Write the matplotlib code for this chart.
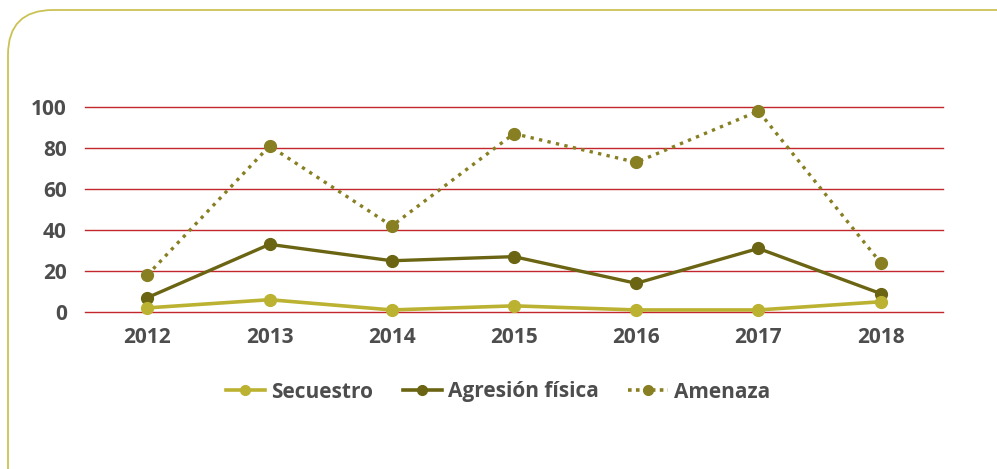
import matplotlib.pyplot as plt
from matplotlib.patches import FancyBboxPatch
from matplotlib.lines import Line2D

years = [2012, 2013, 2014, 2015, 2016, 2017, 2018]
secuestro = [2, 6, 1, 3, 1, 1, 5]
agresion = [7, 33, 25, 27, 14, 31, 9]
amenaza = [18, 81, 42, 87, 73, 98, 24]
y_ticks = [0, 20, 40, 60, 80, 100]

plt.rcParams['font.family'] = ['Open Sans', 'DejaVu Sans']

fig = plt.figure(figsize=(9.97, 4.69), dpi=100)
W, H = 997, 469

# rounded frame (only top-left corner is visible)
frame = FancyBboxPatch((8 / W, -0.2), 1.2, 1.2 - 10 / H,
                       boxstyle="round,pad=0,rounding_size=0.045",
                       transform=fig.transFigure, fill=False,
                       edgecolor="#CBC255", linewidth=1.3, mutation_aspect=W / H)
fig.patches.append(frame)

ax = fig.add_axes([85 / W, 1 - 312 / H, (943 - 85) / W, (312 - 107) / H])
for s in ax.spines.values():
    s.set_visible(False)

ax.set_xlim(2011.49, 2018.51)
ax.set_ylim(0, 100)
ax.set_yticks(y_ticks)
ax.set_xticks(years)
ax.yaxis.grid(True, color="#C1272D", linewidth=1.0)
for gl in ax.get_ygridlines():
    gl.set_clip_on(False)
ax.set_axisbelow(True)
ax.tick_params(length=0, labelsize=15, labelcolor="#4D4D4D", pad=13)
ax.tick_params(axis="x", pad=11)
for lbl in ax.get_xticklabels() + ax.get_yticklabels():
    lbl.set_fontweight("bold")

c_sec = "#BCB232"
c_agr = "#6A6413"
c_ame = "#877F21"

ax.plot(years, amenaza, color=c_ame, linewidth=2.4, linestyle=(0, (1, 1.6)),
        marker="o", markersize=8.5, clip_on=False, zorder=3)
ax.plot(years, agresion, color=c_agr, linewidth=2.4,
        marker="o", markersize=8.5, clip_on=False, zorder=4)
ax.plot(years, secuestro, color=c_sec, linewidth=2.6,
        marker="o", markersize=8.5, clip_on=False, zorder=5)

handles = [
    Line2D([], [], color=c_sec, linewidth=2.6, marker="o", markersize=7),
    Line2D([], [], color=c_agr, linewidth=2.6, marker="o", markersize=7),
    Line2D([], [], color=c_ame, linewidth=2.6, linestyle=(0, (1, 1.2)), marker="o", markersize=7),
]
labels = ["Secuestro", "Agresión física", "Amenaza"]
leg = fig.legend(handles, labels, loc="center", bbox_to_anchor=(498 / W, 1 - 392 / H),
                 ncol=3, frameon=False, handlelength=1.9, handletextpad=0.3,
                 columnspacing=1.4, prop={"size": 15, "weight": "bold"})
for t in leg.get_texts():
    t.set_color("#4D4D4D")

fig.savefig("out.png", dpi=100)
